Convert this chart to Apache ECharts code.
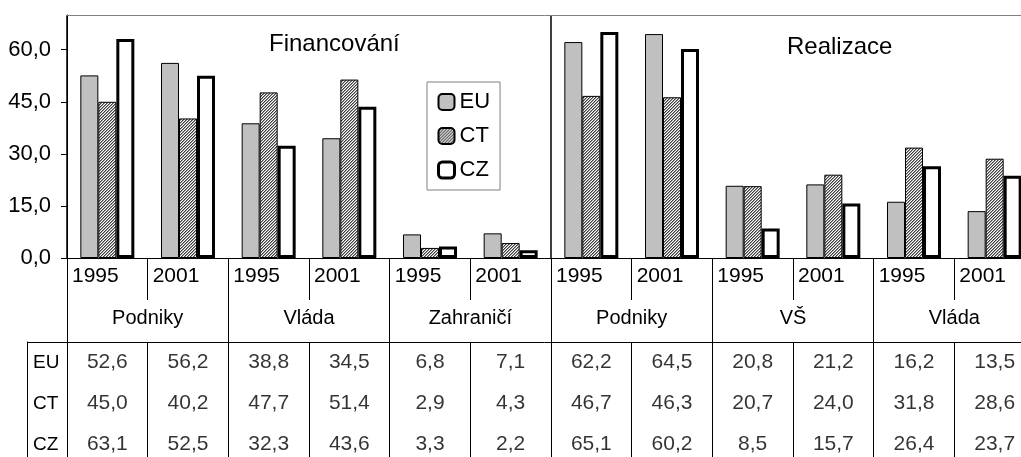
<!DOCTYPE html>
<html>
<head>
<meta charset="utf-8">
<script src="https://cdn.jsdelivr.net/npm/echarts@6/dist/echarts.min.js"></script>
<style>
  html, body { margin: 0; padding: 0; background: #fff; }
  #chart { width: 1021px; height: 457px; }
</style>
</head>
<body>
<div id="chart"></div>
<script>
// data
var years = ['1995', '2001', '1995', '2001', '1995', '2001', '1995', '2001', '1995', '2001', '1995', '2001'];
var groups = ['Podniky', 'Vláda', 'Zahraničí', 'Podniky', 'VŠ', 'Vláda'];
var sections = ['Financování', 'Realizace'];
var seriesNames = ['EU', 'CT', 'CZ'];
var euValues = [52.6, 56.2, 38.8, 34.5, 6.8, 7.1, 62.2, 64.5, 20.8, 21.2, 16.2, 13.5];
var ctValues = [45.0, 40.2, 47.7, 51.4, 2.9, 4.3, 46.7, 46.3, 20.7, 24.0, 31.8, 28.6];
var czValues = [63.1, 52.5, 32.3, 43.6, 3.3, 2.2, 65.1, 60.2, 8.5, 15.7, 26.4, 23.7];
var yTicks = [0, 15, 30, 45, 60];

var FONT = "'Liberation Sans', Arial, sans-serif";
var fmt = function (v) { return Number(v).toFixed(1).replace('.', ','); };

// fine "/" hatch for CT bars
var tile = document.createElement('canvas');
tile.width = 3; tile.height = 3;
var g = tile.getContext('2d');
g.fillStyle = '#ffffff'; g.fillRect(0, 0, 3, 3);
for (var i = 0; i < 3; i++) {
  g.fillStyle = '#404040'; g.fillRect(i, 2 - i, 1, 1);
  g.fillStyle = '#9a9a9a'; g.fillRect(i, (3 - i) % 3, 1, 1);
}

// labels on boundaries: years start at each boundary, groups centred on every 2nd one
var yearSlots = years.concat(['']);
var groupSlots = [];
for (var k = 0; k <= years.length; k++) {
  groupSlots.push(k % 2 === 1 ? groups[(k - 1) / 2] : '');
}

var tableData = [];
[euValues, ctValues, czValues].forEach(function (vals, r) {
  vals.forEach(function (v, c) { tableData.push([c, r, v]); });
});

var chart = echarts.init(document.getElementById('chart'));
chart.setOption({
  animation: false,
  textStyle: { fontFamily: FONT, color: '#000' },
  grid: [
    { left: 67, right: -14, top: 15, bottom: 199, outerBoundsMode: 'none', containLabel: false },
    { left: 67, right: -14, top: 342, bottom: -8, outerBoundsMode: 'none', containLabel: false }
  ],
  legend: {
    data: [{ name: 'EU' }, { name: 'CT' }, { name: 'CZ', itemStyle: { borderWidth: 3 } }],
    orient: 'vertical',
    left: 427, top: 82,
    padding: [9, 10, 9, 10],
    itemWidth: 16, itemHeight: 16, itemGap: 12,
    borderColor: '#808080', borderWidth: 1,
    backgroundColor: '#fff',
    textStyle: { fontSize: 22, color: '#000', fontFamily: FONT }
  },
  graphic: [
    { type: 'text', left: 269, top: 32, style: { text: sections[0], font: '24px ' + FONT, fill: '#000' } },
    { type: 'text', left: 787, top: 35, style: { text: sections[1], font: '24px ' + FONT, fill: '#000' } }
  ],
  xAxis: [
    { // bars + short dividers under each year
      type: 'category', gridIndex: 0, position: 'bottom', data: years,
      axisLine: { lineStyle: { color: '#000', width: 1 } },
      axisTick: { show: true, interval: 0, length: 42, lineStyle: { color: '#000' } },
      axisLabel: { show: false }
    },
    { // long dividers between groups + section divider
      type: 'category', gridIndex: 0, position: 'bottom', data: years,
      axisLine: { show: false, onZero: false },
      axisTick: { show: true, interval: 1, length: 84, lineStyle: { color: '#000' } },
      axisLabel: { show: false },
      splitLine: { show: true, interval: function (idx) { return idx === 0 || idx === 6; }, lineStyle: { color: '#000', width: 1.5 } }
    },
    { // year labels
      type: 'category', gridIndex: 0, position: 'bottom', boundaryGap: false, data: yearSlots,
      axisLine: { show: false, onZero: false }, axisTick: { show: false },
      axisLabel: { interval: 0, align: 'left', margin: 8, padding: [0, 0, 0, 5], fontSize: 21, color: '#000' }
    },
    { // group labels
      type: 'category', gridIndex: 0, position: 'bottom', boundaryGap: false, data: groupSlots,
      axisLine: { show: false, onZero: false }, axisTick: { show: false },
      axisLabel: { interval: 0, margin: 50, fontSize: 20, color: '#000' }
    },
    { // grey top frame
      type: 'category', gridIndex: 0, position: 'top', data: years,
      axisLine: { lineStyle: { color: '#808080' }, onZero: false },
      axisTick: { show: false }, axisLabel: { show: false }
    },
    { // table columns
      type: 'category', gridIndex: 1, position: 'top', data: years,
      axisLine: { lineStyle: { color: '#000' }, onZero: false },
      axisTick: { show: true, inside: true, interval: 0, length: 130, lineStyle: { color: '#000' } },
      axisLabel: { show: false }
    }
  ],
  yAxis: [
    {
      type: 'value', gridIndex: 0, min: 0, max: 70, interval: 15,
      axisLine: { show: true, lineStyle: { color: '#000' } },
      axisTick: { show: true, length: 6, customValues: yTicks, lineStyle: { color: '#000' } },
      axisLabel: { customValues: yTicks, margin: 16, fontSize: 22, color: '#000', formatter: fmt },
      splitLine: { show: false }
    },
    { // table row names
      type: 'category', gridIndex: 1, inverse: true, data: seriesNames,
      axisLine: { show: true, onZero: false, lineStyle: { color: '#000' } },
      axisTick: { show: true, interval: function (idx) { return idx === 0; }, length: 40, lineStyle: { color: '#000' } },
      axisLabel: { align: 'left', margin: 34, fontSize: 19, color: '#000' },
      splitLine: { show: false }
    },
    { // left edge of the row-name column
      type: 'category', gridIndex: 1, inverse: true, data: seriesNames, position: 'left', offset: 40,
      axisLine: { show: true, onZero: false, lineStyle: { color: '#000' } },
      axisTick: { show: false }, axisLabel: { show: false }
    }
  ],
  series: [
    {
      name: 'EU', type: 'bar', xAxisIndex: 0, yAxisIndex: 0, data: euValues,
      barWidth: 18, barGap: '0%', silent: true,
      itemStyle: { color: '#c0c0c0', borderColor: '#000', borderWidth: 1 }
    },
    {
      name: 'CT', type: 'bar', xAxisIndex: 0, yAxisIndex: 0, data: ctValues,
      barWidth: 18, barGap: '0%', silent: true,
      itemStyle: { color: { image: tile, repeat: 'repeat' }, borderColor: '#000', borderWidth: 1 }
    },
    {
      name: 'CZ', type: 'bar', xAxisIndex: 0, yAxisIndex: 0, data: czValues,
      barWidth: 18, barGap: '0%', silent: true,
      itemStyle: { color: '#fff', borderColor: '#000', borderWidth: 3 }
    },
    {
      type: 'scatter', xAxisIndex: 5, yAxisIndex: 1, data: tableData, silent: true,
      symbolSize: 1, itemStyle: { color: 'rgba(0,0,0,0)' },
      label: {
        show: true, position: 'inside', fontSize: 21, color: '#000', fontFamily: FONT,
        formatter: function (p) { return fmt(p.value[2]); }
      }
    }
  ]
});
</script>
</body>
</html>
